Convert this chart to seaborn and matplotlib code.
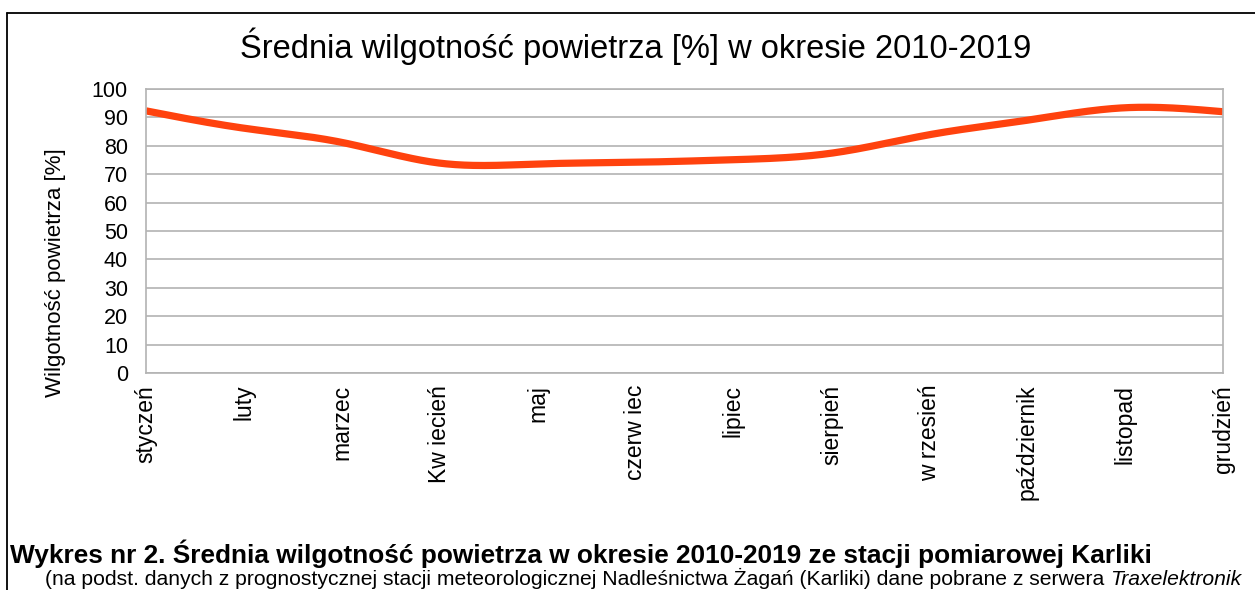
import numpy as np
import pandas as pd
import matplotlib
matplotlib.use("Agg")
import matplotlib.pyplot as plt
import seaborn as sns
from matplotlib.lines import Line2D

months = ["styczeń", "luty", "marzec", "Kw iecień", "maj", "czerw iec", "lipiec",
          "sierpień", "w rzesień", "październik", "listopad", "grudzień"]
humidity = [92.3, 86.2, 81.2, 73.9, 73.6, 74.2, 75.1, 77.4, 83.9, 89.0, 93.4, 92.0]
yticks = [0, 10, 20, 30, 40, 50, 60, 70, 80, 90, 100]

title = "Średnia wilgotność powietrza [%] w okresie 2010-2019"
ylabel = "Wilgotność powietrza [%]"
caption1 = "Wykres nr 2. Średnia wilgotność powietrza w okresie 2010-2019 ze stacji pomiarowej Karliki"
caption2a = "(na podst. danych z prognostycznej stacji meteorologicznej Nadleśnictwa Żagań (Karliki) dane pobrane z serwera "
caption2b = "Traxelektronik"

sns.set_theme(style="white")
plt.rcParams['font.family'] = ['Liberation Sans', 'DejaVu Sans']
plt.rcParams['text.color'] = 'black'
plt.rcParams['axes.labelcolor'] = 'black'
plt.rcParams['xtick.color'] = 'black'
plt.rcParams['ytick.color'] = 'black'

W, H = 1255, 590
fig = plt.figure(figsize=(W / 100, H / 100), dpi=100)
fig.patch.set_facecolor("white")


def natural_spline(x, y, n=600):
    x = np.asarray(x, float)
    y = np.asarray(y, float)
    k = len(x)
    h = np.diff(x)
    A = np.zeros((k, k))
    b = np.zeros(k)
    A[0, 0] = 1
    A[-1, -1] = 1
    for i in range(1, k - 1):
        A[i, i - 1] = h[i - 1]
        A[i, i] = 2 * (h[i - 1] + h[i])
        A[i, i + 1] = h[i]
        b[i] = 6 * ((y[i + 1] - y[i]) / h[i] - (y[i] - y[i - 1]) / h[i - 1])
    M = np.linalg.solve(A, b)
    xs = np.linspace(x[0], x[-1], n)
    idx = np.clip(np.searchsorted(x, xs) - 1, 0, k - 2)
    x0, x1 = x[idx], x[idx + 1]
    hh = x1 - x0
    t0 = x1 - xs
    t1 = xs - x0
    ys = (M[idx] * t0 ** 3 / (6 * hh) + M[idx + 1] * t1 ** 3 / (6 * hh)
          + (y[idx] / hh - M[idx] * hh / 6) * t0 + (y[idx + 1] / hh - M[idx + 1] * hh / 6) * t1)
    return xs, ys


xpos = np.arange(len(months))
xs, ys = natural_spline(xpos, humidity)
df = pd.DataFrame({"x": xs, "y": ys})

left, right, top, bottom = 146, 1223, 89, 373
ax = fig.add_axes([left / W, 1 - bottom / H, (right - left) / W, (bottom - top) / H])
sns.lineplot(data=df, x="x", y="y", ax=ax, color="#FF420E", linewidth=5.2,
             solid_capstyle="butt", sort=False)

ax.set_xlim(0, len(months) - 1)
ax.set_ylim(0, 100)
ax.set_yticks(yticks)
ax.set_yticklabels([str(v) for v in yticks], fontsize=15.5)
ax.set_xticks(xpos)
ax.set_xticklabels(months, rotation=90, fontsize=16.5, va="top", ha="center")
ax.set_xlabel("")
ax.set_ylabel("")
ax.grid(axis="y", color="#b3b3b3", linewidth=1.2)
ax.set_axisbelow(True)
for s in ax.spines.values():
    s.set_color("#b3b3b3")
    s.set_linewidth(1.2)
ax.tick_params(axis="both", length=7.5, width=1.2, color="#b3b3b3", labelcolor="black")
ax.tick_params(axis="x", pad=1)
ax.tick_params(axis="y", pad=5.5)

fig.text(636 / W, 1 - 58 / H, title, ha="center", va="baseline", fontsize=23.5, color="black")
fig.text(55 / W, 1 - 273 / H, ylabel, ha="center", va="center", rotation=90, fontsize=16, color="black")

# frame lines
fig.add_artist(Line2D([7 / W, 7 / W], [0, 1 - 13 / H], transform=fig.transFigure, color="black", linewidth=1.3))
fig.add_artist(Line2D([7 / W, 1], [1 - 13 / H, 1 - 13 / H], transform=fig.transFigure, color="black", linewidth=1.3))

fig.text(10 / W, 1 - 563 / H, caption1, ha="left", va="baseline", fontsize=18.95, fontweight="bold", color="black")
t = fig.text(45 / W, 1 - 585 / H, caption2a, ha="left", va="baseline", fontsize=15.2, color="black")
fig.canvas.draw()
bb = t.get_window_extent()
fig.text(bb.x1 / W, 1 - 585 / H, caption2b, ha="left", va="baseline", fontsize=15.2, style="italic", color="black")

fig.savefig("out.png", dpi=100)
